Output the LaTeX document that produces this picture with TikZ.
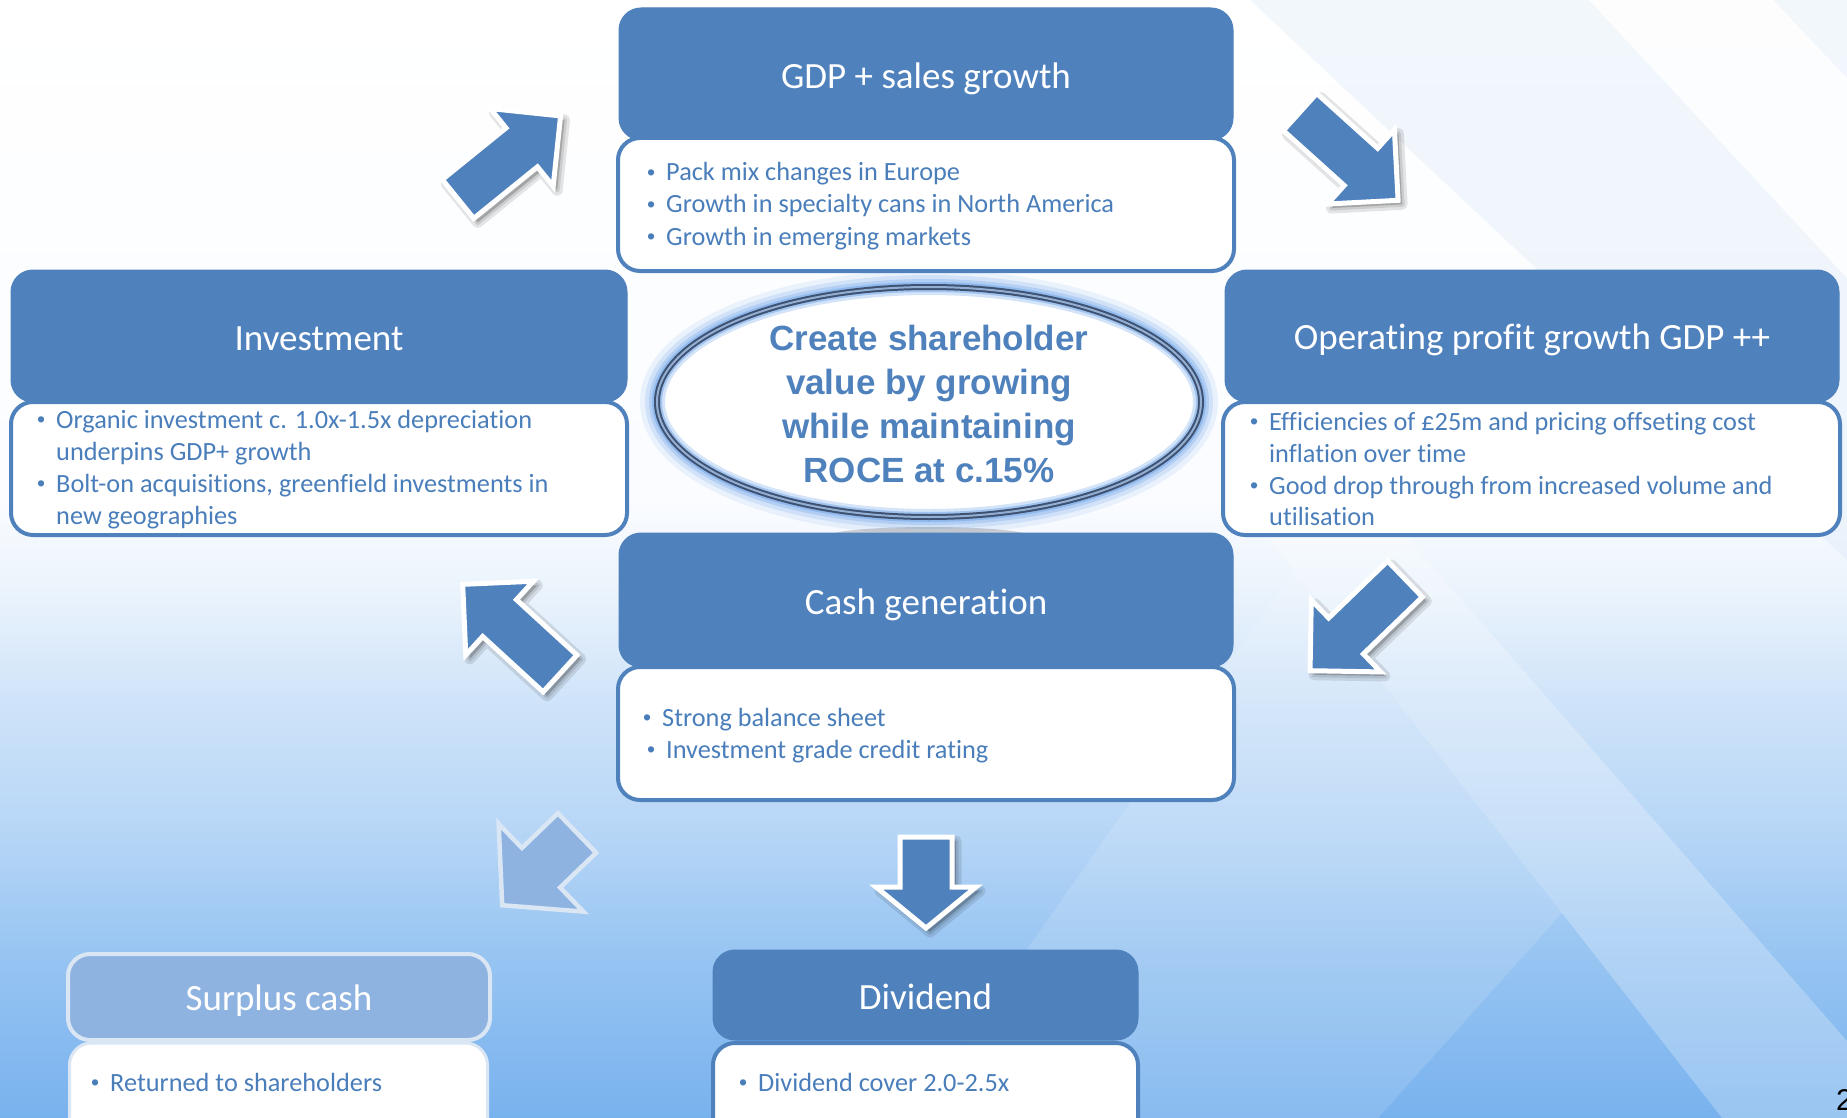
\documentclass[tikz,border=0pt]{standalone}
\usepackage{fontspec}
\setmainfont{Carlito}[Ligatures=NoCommon]
\newfontfamily\goalfont{Liberation Sans}
\usetikzlibrary{shapes.geometric}

\definecolor{boxblue}{HTML}{4F81BD}
\definecolor{itemblue}{HTML}{4A7EBB}
\definecolor{fadeblue}{HTML}{8EB3E1}
\definecolor{fadeline}{HTML}{DAE6F4}
\definecolor{rimdark}{HTML}{3E5170}
\definecolor{rimlight}{HTML}{93AED3}
\definecolor{glowblue}{HTML}{6FA4E8}
\definecolor{bgA}{HTML}{78B2EE}
\definecolor{bgB}{HTML}{98C5F2}
\definecolor{bgC}{HTML}{B5D5F6}
\definecolor{bgD}{HTML}{CEE3F9}
\definecolor{bgE}{HTML}{EAF3FC}
\definecolor{bgF}{HTML}{FAFCFF}
\definecolor{tint}{HTML}{D5E5F7}

% the filled area maps onto 25bp (bottom) .. 75bp (top)
\pgfdeclareverticalshading{slidebg}{100bp}{color(0bp)=(bgA); color(25bp)=(bgA); color(32.5bp)=(bgB); color(37.5bp)=(bgC); color(43.5bp)=(bgD); color(48.5bp)=(bgE); color(52.5bp)=(bgF); color(75bp)=(white); color(100bp)=(white)}

\tikzset{
  header/.style={rectangle, rounded corners=22pt, fill=boxblue, draw=boxblue, line width=1pt, inner sep=0pt},
  bodybox/.style={rectangle, rounded corners=22pt, fill=white, draw=boxblue, line width=4pt, inner sep=0pt},
  fadeheader/.style={header, fill=fadeblue, draw=fadeline, line width=4pt},
  fadebody/.style={bodybox, draw=fadeline, line width=3pt},
  titletext/.style={text=white, font=\fontsize{37}{44}\selectfont, anchor=base, inner sep=0pt},
  itemtext/.style={text=itemblue, font=\fontsize{26.3}{32}\selectfont, anchor=base west, inner sep=0pt},
  arrowbody/.style={fill=boxblue, draw=white, line width=5pt, line join=miter},
  arrowshadow/.style={fill=black, draw=black, line width=#1, opacity=0.1, line join=round},
  fadearrow/.style={fill=fadeblue, draw=fadeline, line width=4.5pt, line join=miter},
}

% block arrow: #1 style, #2 tail centre, #3 angle, #4 shaft length,
% #5 shaft half width, #6 head half width, #7 head length
\newcommand\drawarrow[7]{%
  \path[#1, shift={#2}, rotate=#3] (0,#5) -- (#4,#5) -- (#4,#6) -- ({#4+#7},0)
    -- (#4,-#6) -- (#4,-#5) -- (0,-#5) -- cycle;}
\newcommand\shadedarrow[7]{%
  \drawarrow{arrowshadow=11pt, xshift=4pt, yshift=-4pt}{#2}{#3}{#4}{#5}{#6}{#7}%
  \drawarrow{arrowshadow=5pt, xshift=4pt, yshift=-4pt}{#2}{#3}{#4}{#5}{#6}{#7}%
  \drawarrow{#1}{#2}{#3}{#4}{#5}{#6}{#7}}

% small round bullet
\newcommand\dotmark{{\goalfont\fontsize{23}{23}\selectfont\raisebox{0.5pt}{\textbullet}}}
% bullet line: #1 name, #2 x of text start, #3 baseline, #4 text
\newcommand\itemline[4]{\node[itemtext] (#1) at ({#2-19},#3) {\makebox[19pt][l]{\dotmark}#4};}
% continuation line of a bullet
\newcommand\moreline[4]{\node[itemtext] (#1) at (#2,#3) {#4};}

\begin{document}
\begin{tikzpicture}[x=1pt,y=-1pt]
\useasboundingbox (0,0) rectangle (1847,1118);
\clip (0,0) rectangle (1847,1118);

% slide background
\shade[shading=slidebg] (0,0) rectangle (1847,1118);
\fill[tint, opacity=0.3] (1250,0) -- (1847,0) -- (1847,560) -- cycle;
\fill[white, opacity=0.85] (1589,0) -- (1773,0) -- (1847,78) -- (1847,278) -- cycle;
\fill[white, opacity=0.13] (1294,570) -- (1562,913) -- (1378,1118) -- (908,1118) -- cycle;
\fill[white, opacity=0.25] (1200,450) -- (1294,570) -- (1562,913) -- (1722,1118)
  -- (1847,1118) -- (1847,1041) -- (1411,542) -- (1330,450) -- cycle;

% central goal
\node[ellipse, minimum width=544pt, minimum height=230pt, inner sep=0pt, fill=white,
  preaction={draw=glowblue, line width=34pt, opacity=0.12},
  preaction={draw=glowblue, line width=24pt, opacity=0.2},
  postaction={draw=glowblue, line width=16pt, opacity=0.3},
  postaction={draw=glowblue, line width=10pt, opacity=0.5},
  postaction={draw=rimdark, line width=6pt},
  postaction={draw=rimlight, line width=2pt}] (goal) at (929,402) {};
\node[font=\goalfont\bfseries\fontsize{35}{44}\selectfont, text=boxblue, align=center, inner sep=0pt]
  (goaltext) at (929,404) {Create shareholder\\value by growing\\while maintaining\\ROCE at c.15\%};
\fill[gray, opacity=0.35] (829,536) arc[start angle=180, end angle=360, x radius=100, y radius=9] -- cycle;

% GDP + sales growth
\node[header, minimum width=614pt, minimum height=132pt] (gdphead) at (926,74) {};
\node[bodybox, minimum width=616pt, minimum height=133pt] (gdpbody) at (926,204.5) {};
\node[titletext] (gdptitle) at (926,89) {GDP + sales growth};
\itemline{gdpa}{666}{181}{Pack mix changes in Europe}
\itemline{gdpb}{666}{213}{Growth in specialty cans in North America}
\itemline{gdpc}{666}{245}{Growth in emerging markets}

% Investment
\node[header, minimum width=616pt, minimum height=132pt] (invhead) at (319,336) {};
\node[bodybox, minimum width=616pt, minimum height=133pt] (invbody) at (319,468.5) {};
\node[titletext] (invtitle) at (319,350) {Investment};
\itemline{inva}{56}{428}{Organic investment c. 1.0x-1.5x depreciation}
\moreline{invb}{56}{460}{underpins GDP+ growth}
\itemline{invc}{56}{492}{Bolt-on acquisitions, greenfield investments in}
\moreline{invd}{56}{524}{new geographies}

% Operating profit
\node[header, minimum width=614pt, minimum height=132pt] (ophead) at (1532,336) {};
\node[bodybox, minimum width=617pt, minimum height=133pt] (opbody) at (1531.5,468.5) {};
\node[titletext] (optitle) at (1532,349) {Operating profit growth GDP ++};
\itemline{opa}{1269}{430}{Efficiencies of £25m and pricing offseting cost}
\moreline{opb}{1269}{462}{inflation over time}
\itemline{opc}{1269}{494}{Good drop through from increased volume and}
\moreline{opd}{1269}{525}{utilisation}

% Cash generation
\node[header, minimum width=614pt, minimum height=134pt] (cashhead) at (926,600) {};
\node[bodybox, minimum width=616pt, minimum height=133pt] (cashbody) at (926,733.5) {};
\node[titletext] (cashtitle) at (926,614) {Cash generation};
\itemline{casha}{662}{726}{Strong balance sheet}
\itemline{cashb}{666}{758}{Investment grade credit rating}

% Dividend
\node[header, minimum width=425pt, minimum height=90pt] (divhead) at (925.5,995) {};
\node[bodybox, minimum width=425pt, minimum height=117pt] (divbody) at (925.5,1101.5) {};
\node[titletext] (divtitle) at (925.5,1009) {Dividend};
\itemline{diva}{758}{1091}{Dividend cover 2.0-2.5x}

% Surplus cash
\node[fadeheader, minimum width=422pt, minimum height=86pt] (surhead) at (279,997) {};
\node[fadebody, minimum width=418pt, minimum height=117pt] (surbody) at (278.5,1101.5) {};
\node[titletext] (surtitle) at (279,1010) {Surplus cash};
\itemline{sura}{110}{1091}{Returned to shareholders}

% cycle arrows
\shadedarrow{arrowbody}{(458,199)}{39}{82}{25}{50}{50}
\shadedarrow{arrowbody}{(1300,112)}{-42}{82}{25}{50}{50}
\shadedarrow{arrowbody}{(1405,579)}{224}{82}{25}{50}{50}
\shadedarrow{arrowbody}{(560,673.5)}{137.5}{82}{25}{50}{50}
\shadedarrow{arrowbody}{(926,837)}{-90}{50}{26}{50}{41}
\drawarrow{fadearrow}{(577,833)}{224}{50}{27.5}{61}{54}

% page number
\node[font=\goalfont\fontsize{30}{30}\selectfont, anchor=base west, inner sep=0pt] (pagenum) at (1836,1110) {2};
\end{tikzpicture}
\end{document}
